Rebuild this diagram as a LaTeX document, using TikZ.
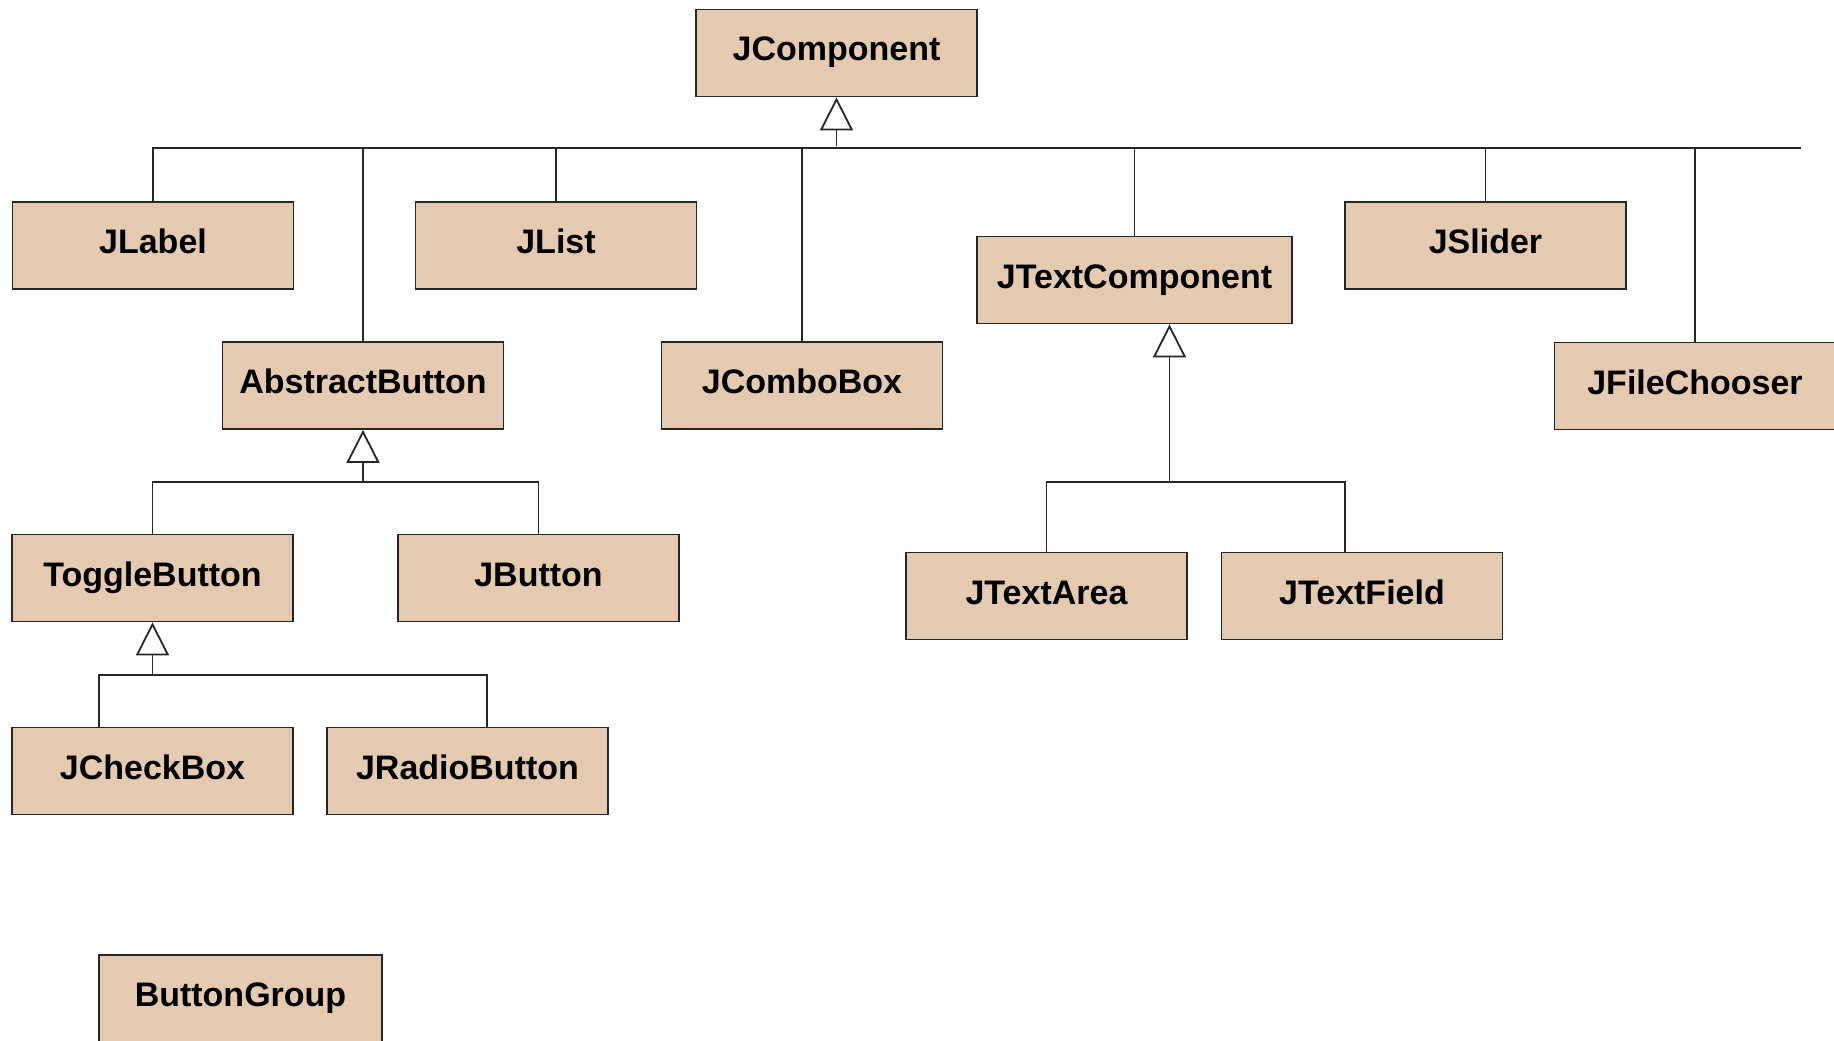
\documentclass[tikz,border=0pt]{standalone}
\usepackage{fontspec}
\setmainfont{Liberation Sans}
\usetikzlibrary{arrows.meta}
\definecolor{clsfill}{RGB}{228,202,176}
\tikzset{
  cls/.style={draw=black!85, line width=1.8pt, fill=clsfill, minimum width=281pt,
    minimum height=87pt, inner sep=0pt, text height=24.5pt, text depth=8.5pt,
    font=\fontsize{34}{40}\selectfont\bfseries},
  link/.style={line width=1.8pt, black!85},
  inh/.style={link, -{Triangle[open, length=33pt, width=33pt, line width=1.8pt]}}
}
\begin{document}
\begin{tikzpicture}[x=1pt, y=-1pt]
\useasboundingbox (0,0) rectangle (1834,1041);

% classes
\node[cls] (jcomp) at (836.5,53) {JComponent};
\node[cls] (jlabel) at (153,245.5) {JLabel};
\node[cls] (jlist) at (556,245.5) {JList};
\node[cls] (absbtn) at (363,385.5) {AbstractButton};
\node[cls] (combo) at (802,385.5) {JComboBox};
\node[cls, minimum width=315pt] (jtc) at (1134.5,280) {JTextComponent};
\node[cls] (slider) at (1485.5,245.5) {JSlider};
\node[cls] (chooser) at (1695,386) {JFileChooser};
\node[cls] (toggle) at (152.5,578) {ToggleButton};
\node[cls] (jbutton) at (538.5,578) {JButton};
\node[cls] (textarea) at (1046.5,596) {JTextArea};
\node[cls] (textfield) at (1362,596) {JTextField};
\node[cls] (checkbox) at (152.5,771) {JCheckBox};
\node[cls] (radio) at (467.5,771) {JRadioButton};
\node[cls, minimum width=283pt] (group) at (240.5,998.5) {ButtonGroup};

% JComponent subclasses
\coordinate (bus1) at (836.5,148);
\coordinate (bus1end) at (1801,148);
\draw[link] (jlabel.north) |- (bus1end);
\foreach \c in {jlist, absbtn, combo, jtc, slider, chooser}
  \draw[link] (\c.north) -- (\c.north |- bus1);
\draw[inh] ([yshift=2pt]bus1) -- (jcomp.south);

% AbstractButton subclasses
\coordinate (bus2) at (363,482);
\draw[link] (toggle.north) |- (bus2) -| (jbutton.north);
\draw[inh] (bus2) -- (absbtn.south);

% ToggleButton subclasses
\coordinate (bus3) at (152.5,675);
\draw[link] ([xshift=-53.5pt]checkbox.north) |- (bus3) -| ([xshift=19.5pt]radio.north);
\draw[inh] (bus3) -- (toggle.south);

% JTextComponent subclasses
\coordinate (bus4) at (1169.5,482);
\draw[link] (textarea.north) |- (bus4) -| ([xshift=-17pt]textfield.north);
\draw[inh] (bus4) -- ([xshift=35pt]jtc.south);
\end{tikzpicture}
\end{document}
